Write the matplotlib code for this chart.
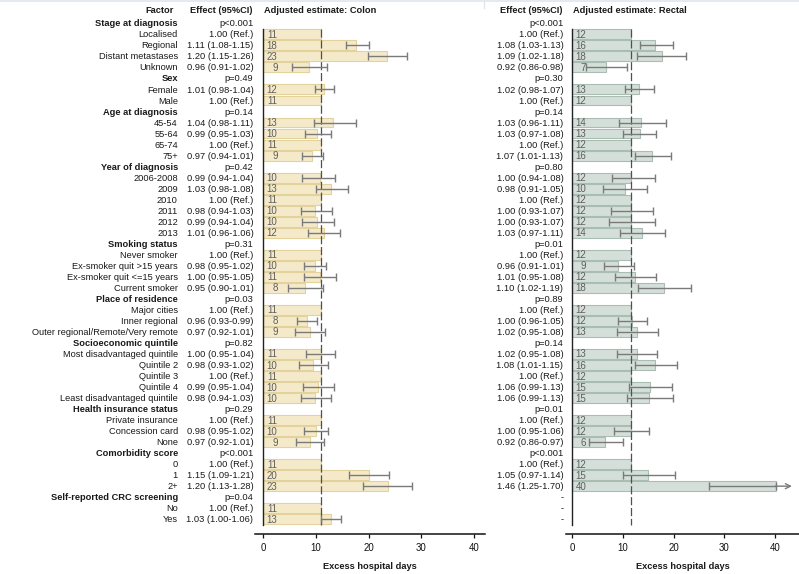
import matplotlib
matplotlib.use("Agg")
import matplotlib.pyplot as plt
from matplotlib.transforms import blended_transform_factory
import numpy as np

plt.rcParams['font.family'] = ['Liberation Sans', 'DejaVu Sans']

# ---------------- data ----------------
groups = ["Stage at diagnosis", "Sex", "Age at diagnosis", "Year of diagnosis",
          "Smoking status", "Place of residence", "Socioeconomic quintile",
          "Health insurance status", "Comorbidity score", "Self-reported CRC screening"]
levels = [
    ["Localised", "Regional", "Distant metastases", "Unknown"],
    ["Female", "Male"],
    ["45-54", "55-64", "65-74", "75+"],
    ["2006-2008", "2009", "2010", "2011", "2012", "2013"],
    ["Never smoker", "Ex-smoker quit >15 years", "Ex-smoker quit <=15 years", "Current smoker"],
    ["Major cities", "Inner regional", "Outer regional/Remote/Very remote"],
    ["Most disadvantaged quintile", "Quintile 2", "Quintile 3", "Quintile 4", "Least disadvantaged quintile"],
    ["Private insurance", "Concession card", "None"],
    ["0", "1", "2+"],
    ["No", "Yes"],
]

colon_p = ["p<0.001", "p=0.49", "p=0.14", "p=0.42", "p=0.31", "p=0.03", "p=0.82", "p=0.29", "p<0.001", "p=0.04"]
rectal_p = ["p<0.001", "p=0.30", "p=0.14", "p=0.80", "p=0.01", "p=0.89", "p=0.14", "p=0.01", "p<0.001", "-"]

colon_eff = ["1.00 (Ref.)", "1.11 (1.08-1.15)", "1.20 (1.15-1.26)", "0.96 (0.91-1.02)",
             "1.01 (0.98-1.04)", "1.00 (Ref.)",
             "1.04 (0.98-1.11)", "0.99 (0.95-1.03)", "1.00 (Ref.)", "0.97 (0.94-1.01)",
             "0.99 (0.94-1.04)", "1.03 (0.98-1.08)", "1.00 (Ref.)", "0.98 (0.94-1.03)", "0.99 (0.94-1.04)", "1.01 (0.96-1.06)",
             "1.00 (Ref.)", "0.98 (0.95-1.02)", "1.00 (0.95-1.05)", "0.95 (0.90-1.01)",
             "1.00 (Ref.)", "0.96 (0.93-0.99)", "0.97 (0.92-1.01)",
             "1.00 (0.95-1.04)", "0.98 (0.93-1.02)", "1.00 (Ref.)", "0.99 (0.95-1.04)", "0.98 (0.94-1.03)",
             "1.00 (Ref.)", "0.98 (0.95-1.02)", "0.97 (0.92-1.01)",
             "1.00 (Ref.)", "1.15 (1.09-1.21)", "1.20 (1.13-1.28)",
             "1.00 (Ref.)", "1.03 (1.00-1.06)"]
rectal_eff = ["1.00 (Ref.)", "1.08 (1.03-1.13)", "1.09 (1.02-1.18)", "0.92 (0.86-0.98)",
              "1.02 (0.98-1.07)", "1.00 (Ref.)",
              "1.03 (0.96-1.11)", "1.03 (0.97-1.08)", "1.00 (Ref.)", "1.07 (1.01-1.13)",
              "1.00 (0.94-1.08)", "0.98 (0.91-1.05)", "1.00 (Ref.)", "1.00 (0.93-1.07)", "1.00 (0.93-1.07)", "1.03 (0.97-1.11)",
              "1.00 (Ref.)", "0.96 (0.91-1.01)", "1.01 (0.95-1.08)", "1.10 (1.02-1.19)",
              "1.00 (Ref.)", "1.00 (0.96-1.05)", "1.02 (0.95-1.08)",
              "1.02 (0.95-1.08)", "1.08 (1.01-1.15)", "1.00 (Ref.)", "1.06 (0.99-1.13)", "1.06 (0.99-1.13)",
              "1.00 (Ref.)", "1.00 (0.95-1.06)", "0.92 (0.86-0.97)",
              "1.00 (Ref.)", "1.05 (0.97-1.14)", "1.46 (1.25-1.70)",
              "-", "-"]

colon_val = [10.9, 17.7, 23.4, 8.7, 11.5, 10.9, 13.3, 10.2, 10.9, 9.3,
             10.8, 12.9, 10.9, 9.9, 10.3, 11.5, 10.9, 9.8, 10.7, 7.9,
             10.9, 8.3, 8.9, 10.9, 9.5, 10.9, 10.4, 9.8, 10.9, 10.0, 8.9,
             10.9, 20.0, 23.6, 10.9, 12.8]
colon_lab = [11, 18, 23, 9, 12, 11, 13, 10, 11, 9, 10, 13, 11, 10, 10, 12, 11, 10, 11, 8,
             11, 8, 9, 11, 10, 11, 10, 10, 11, 10, 9, 11, 20, 23, 11, 13]
colon_lo = [None, 15.7, 19.9, 5.4, 9.8, None, 9.6, 7.9, None, 7.3,
            7.4, 10.0, None, 7.2, 7.3, 8.6, None, 7.7, 7.8, 4.7,
            None, 6.4, 6.1, 8.1, 6.9, None, 7.5, 7.1, None, 7.8, 6.3,
            None, 16.2, 19.0, None, 11.0]
colon_hi = [None, 20.1, 27.2, 12.2, 13.4, None, 17.6, 12.8, None, 11.4,
            13.6, 16.1, None, 13.0, 13.4, 14.6, None, 11.9, 13.8, 11.4,
            None, 10.2, 11.7, 13.6, 12.4, None, 13.5, 12.8, None, 12.4, 11.6,
            None, 23.9, 28.2, None, 14.8]

rectal_val = [11.6, 16.4, 17.6, 6.6, 13.1, 11.6, 13.6, 13.3, 11.6, 15.8,
              11.6, 10.3, 11.6, 11.6, 11.6, 13.8, 11.6, 9.1, 12.4, 18.0,
              11.6, 11.8, 12.7, 12.7, 16.3, 11.6, 15.3, 15.1, 11.6, 11.6, 6.45,
              11.6, 14.9, 40.1, None, None]
rectal_lab = [12, 16, 18, 7, 13, 12, 14, 13, 12, 16, 12, 10, 12, 12, 12, 14, 12, 9, 12, 18,
              12, 12, 13, 13, 16, 12, 15, 15, 12, 12, 6, 12, 15, 40, None, None]
rectal_lo = [None, 13.4, 12.8, 2.8, 10.3, None, 9.3, 9.9, None, 12.3,
             7.9, 6.1, None, 7.7, 7.3, 9.5, None, 6.3, 8.4, 12.9,
             None, 9.1, 8.8, 8.8, 12.3, None, 11.1, 10.8, None, 8.3, 3.3,
             None, 9.9, 27.0, None, None]
rectal_hi = [None, 19.8, 22.4, 10.7, 16.1, None, 18.4, 16.6, None, 19.5,
             16.4, 14.7, None, 16.0, 16.3, 18.3, None, 12.2, 16.5, 23.5,
             None, 14.8, 16.9, 16.7, 20.7, None, 19.7, 19.8, None, 15.2, 9.9,
             None, 20.3, 40.1, None, None]
rectal_arrow_end = 43.3

colon_ref = 10.9
rectal_ref = 11.6
xticks = [0, 10, 20, 30, 40]

# ---------------- layout ----------------
W, H = 799, 574
fig = plt.figure(figsize=(W / 100, H / 100), dpi=100)
fig.patch.set_facecolor('white')

FS = 6.7
TXT = '#1a1a1a'
GRAY = '#7a7a7a'

rows = []
for gi, g in enumerate(groups):
    rows.append((g, True, gi))
    for lv in levels[gi]:
        rows.append((lv, False, gi))
nrows = len(rows)

y_top_px, y_bot_px = 1.3, 534.0
ylim = (46.34, -2.0)


def make_ax(left_px, right_px, xlim):
    ax = fig.add_axes([left_px / W, 1 - y_bot_px / H, (right_px - left_px) / W,
                       (y_bot_px - y_top_px) / H])
    ax.set_xlim(*xlim)
    ax.set_ylim(*ylim)
    for s in ['top', 'right', 'left']:
        ax.spines[s].set_visible(False)
    ax.spines['bottom'].set_linewidth(1.1)
    ax.spines['bottom'].set_color('#111111')
    ax.set_yticks([])
    ax.set_xticks(xticks)
    ax.tick_params(axis='x', length=3.2, width=0.9, pad=3.0, labelsize=FS + 0.2, colors='#111111')
    ax.set_xlabel("Excess hospital days", fontsize=FS, fontweight='bold', labelpad=6.5, color=TXT)
    ax.patch.set_alpha(0)
    return ax


ax_c = make_ax(255.1, 484.8, (-1.5, 42.0))
ax_r = make_ax(565.7, 799.5, (-1.3, 44.8))


def draw_panel(ax, vals, labs, los, his, ref, fill, edge):
    lvl_i = 0
    for ri, (name, is_header, gi) in enumerate(rows):
        if is_header:
            continue
        v = vals[lvl_i]
        if v is not None:
            ax.barh(ri, v, height=0.9, color=fill, edgecolor=edge, linewidth=0.8, zorder=2)
            ax.text(2.75, ri + 0.05, str(labs[lvl_i]), ha='right', va='center',
                    fontsize=FS + 0.3, color='#5f5f5f', zorder=5)
        if los[lvl_i] is not None:
            ax.errorbar(v, ri, xerr=[[v - los[lvl_i]], [his[lvl_i] - v]], fmt='none',
                        ecolor=GRAY, elinewidth=1.0, capsize=2.6, capthick=1.0, zorder=4)
        lvl_i += 1
    top = 0.5
    bot = nrows - 0.5
    ax.plot([0, 0], [top, bot], color='#222222', lw=1.0, zorder=3)
    ax.plot([ref, ref], [top, bot], color='#505050', lw=0.9, dashes=(6.5, 2.2), zorder=3)


draw_panel(ax_c, colon_val, colon_lab, colon_lo, colon_hi, colon_ref, '#f4eaca', '#e3d29c')
draw_panel(ax_r, rectal_val, rectal_lab, rectal_lo, rectal_hi, rectal_ref, '#d4dfd9', '#a9bdb2')

last_row = [i for i, r in enumerate(rows) if r[0] == "2+"][0]
ax_r.annotate('', xy=(rectal_arrow_end, last_row), xytext=(rectal_hi[33] - 0.1, last_row),
              arrowprops=dict(arrowstyle='->', color=GRAY, lw=1.0, shrinkA=0, shrinkB=0,
                              mutation_scale=9), zorder=4)

# ---------------- text columns ----------------
tr = blended_transform_factory(fig.transFigure, ax_c.transData)
hy = -1.2
fig.text(160 / W, hy, "Factor", transform=tr, ha='center', va='center', fontsize=FS,
         fontweight='bold', color=TXT)
fig.text(252.5 / W, hy, "Effect (95%CI)", transform=tr, ha='right', va='center', fontsize=FS,
         fontweight='bold', color=TXT)
fig.text(263.5 / W, hy, "Adjusted estimate: Colon", transform=tr, ha='left', va='center',
         fontsize=FS, fontweight='bold', color=TXT)
fig.text(563.0 / W, hy, "Effect (95%CI)", transform=tr, ha='right', va='center', fontsize=FS,
         fontweight='bold', color=TXT)
fig.text(573.0 / W, hy, "Adjusted estimate: Rectal", transform=tr, ha='left', va='center',
         fontsize=FS, fontweight='bold', color=TXT)

lvl_i = 0
for ri, (name, is_header, gi) in enumerate(rows):
    y = ri + 0.05
    if is_header:
        fig.text(177.8 / W, y, name, transform=tr, ha='right', va='center', fontsize=FS,
                 fontweight='bold', color=TXT)
        fig.text(253.3 / W, y, colon_p[gi], transform=tr, ha='right', va='center', fontsize=FS, color=TXT)
        fig.text(563.3 / W, y, rectal_p[gi], transform=tr, ha='right', va='center', fontsize=FS, color=TXT)
    else:
        fig.text(177.8 / W, y, name, transform=tr, ha='right', va='center', fontsize=FS, color=TXT)
        fig.text(253.3 / W, y, colon_eff[lvl_i], transform=tr, ha='right', va='center', fontsize=FS, color=TXT)
        fig.text(563.3 / W, y, rectal_eff[lvl_i], transform=tr, ha='right', va='center', fontsize=FS, color=TXT)
        lvl_i += 1

fig.add_artist(plt.Line2D([0, 1], [1 - 0.8 / H, 1 - 0.8 / H], color='#dfe6ec', lw=1.2))
fig.add_artist(plt.Line2D([483.5 / W, 483.5 / W], [1, 1 - 8 / H], color='#dfe6ec', lw=1.0))

fig.savefig("out.png", dpi=100, facecolor='white')
